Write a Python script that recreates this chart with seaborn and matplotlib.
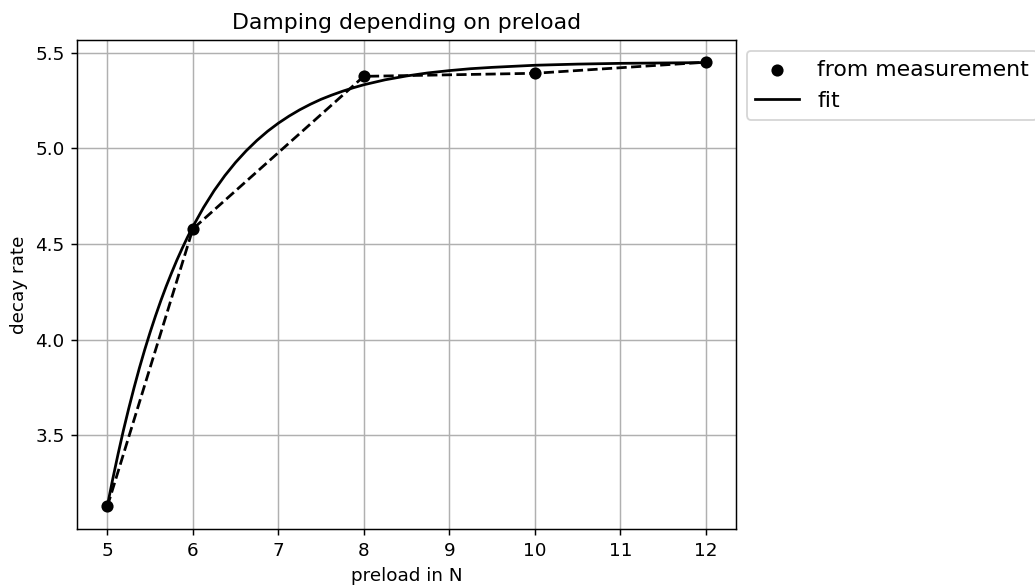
import matplotlib
matplotlib.use('Agg')
import pandas as pd
import seaborn as sns
import matplotlib.pyplot as plt

# measured decay rates
preload = [5, 6, 8, 10, 12]
decay_rate = [3.127, 4.578, 5.376, 5.392, 5.450]

# fit curve
fit_x = [5.0, 5.0625, 5.125, 5.1875, 5.25, 5.3125, 5.375, 5.4375, 5.5,
         5.5625, 5.625, 5.6875, 5.75, 5.8125, 5.875, 5.9375, 6.0,
         6.125, 6.25, 6.375, 6.5, 6.625, 6.75, 6.875, 7.0,
         7.125, 7.25, 7.375, 7.5, 7.625, 7.75, 7.875, 8.0,
         8.25, 8.5, 8.75, 9.0, 9.25, 9.5, 10.0, 10.5, 11.0, 11.5, 12.0]
fit_y = [3.13, 3.269, 3.40, 3.524, 3.639, 3.748, 3.851, 3.947, 4.037,
         4.122, 4.202, 4.277, 4.347, 4.414, 4.476, 4.535, 4.590,
         4.690, 4.779, 4.857, 4.926, 4.987, 5.041, 5.089, 5.131,
         5.168, 5.201, 5.230, 5.256, 5.278, 5.298, 5.316, 5.332,
         5.358, 5.378, 5.394, 5.406, 5.416, 5.423, 5.434, 5.440, 5.444, 5.446, 5.448]

meas = pd.DataFrame({'preload': preload, 'decay': decay_rate})
fit = pd.DataFrame({'preload': fit_x, 'decay': fit_y})

fig = plt.figure(figsize=(1035 / 132, 588 / 132), dpi=132)
ax = fig.add_axes([0.0748, 0.1009, 0.7108 - 0.0748, 0.932 - 0.1009])

sns.scatterplot(data=meas, x='preload', y='decay', color='k', s=44,
                linewidth=0, label='from measurement', zorder=4, ax=ax)
sns.lineplot(data=meas, x='preload', y='decay', color='k', linestyle='--',
             linewidth=1.5, ax=ax)
sns.lineplot(data=fit, x='preload', y='decay', color='k', linewidth=1.5,
             label='fit', ax=ax)

ax.grid(True)
ax.set_axisbelow(True)
ax.set_xlabel('preload in N')
ax.set_ylabel('decay rate')
ax.set_title('Damping depending on preload')
ax.legend(loc='upper left', bbox_to_anchor=(1, 1), fontsize=12)

fig.savefig('out.png', dpi=132)
